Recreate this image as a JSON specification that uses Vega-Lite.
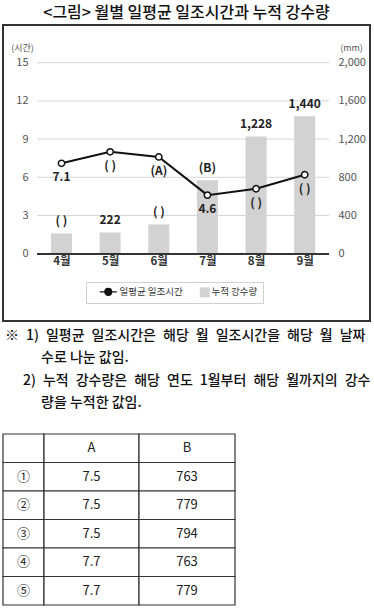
{
  "$schema": "https://vega.github.io/schema/vega-lite/v6.json",
  "padding": {"left": 2, "top": 5, "right": 2, "bottom": 2},
  "bounds": "flush",
  "spacing": 4,
  "title": {"text": "<그림> 월별 일평균 일조시간과 누적 강수량", "font": "Noto Sans CJK KR", "fontSize": 16, "fontWeight": 500, "color": "#111", "anchor": "middle", "offset": 3},
  "config": {"font": "Noto Sans CJK KR", "view": {"stroke": null}},
  "datasets": {
    "monthly": [
      {"month": 4, "sun": 7.1, "rain": 212, "sunLabel": "7.1", "rainLabel": "( )"},
      {"month": 5, "sun": 8.0, "rain": 222, "sunLabel": "( )", "rainLabel": "222"},
      {"month": 6, "sun": 7.6, "rain": 307, "sunLabel": "(A)", "rainLabel": "( )"},
      {"month": 7, "sun": 4.6, "rain": 770, "sunLabel": "4.6", "rainLabel": "(B)"},
      {"month": 8, "sun": 5.1, "rain": 1228, "sunLabel": "( )", "rainLabel": "1,228"},
      {"month": 9, "sun": 6.2, "rain": 1440, "sunLabel": "( )", "rainLabel": "1,440"}
    ],
    "grid": [{"mm": 400}, {"mm": 800}, {"mm": 1200}, {"mm": 1600}, {"mm": 2000}],
    "notes": [
      {"line": 1, "kind": "item", "text": "※\u20021)\u2002일평균\u2002일조시간은\u2002해당\u2002월\u2002일조시간을\u2002해당\u2002월\u2002날짜"},
      {"line": 2, "kind": "cont", "text": "수로 나눈 값임."},
      {"line": 3, "kind": "sub", "text": "2)\u2002누적\u2002강수량은\u2002해당\u2002연도\u20021월부터\u2002해당\u2002월까지의\u2002강수"},
      {"line": 4, "kind": "cont", "text": "량을 누적한 값임."}
    ],
    "table": [
      {"row": 0, "col": "no", "text": ""}, {"row": 0, "col": "A", "text": "A"}, {"row": 0, "col": "B", "text": "B"},
      {"row": 1, "col": "no", "text": "①"}, {"row": 1, "col": "A", "text": "7.5"}, {"row": 1, "col": "B", "text": "763"},
      {"row": 2, "col": "no", "text": "②"}, {"row": 2, "col": "A", "text": "7.5"}, {"row": 2, "col": "B", "text": "779"},
      {"row": 3, "col": "no", "text": "③"}, {"row": 3, "col": "A", "text": "7.5"}, {"row": 3, "col": "B", "text": "794"},
      {"row": 4, "col": "no", "text": "④"}, {"row": 4, "col": "A", "text": "7.7"}, {"row": 4, "col": "B", "text": "763"},
      {"row": 5, "col": "no", "text": "⑤"}, {"row": 5, "col": "A", "text": "7.7"}, {"row": 5, "col": "B", "text": "779"}
    ]
  },
  "vconcat": [
    {
      "width": 367,
      "height": 296,
      "view": {"stroke": "#333", "strokeWidth": 2},
      "data": {"name": "monthly"},
      "resolve": {"scale": {"y": "independent"}},
      "layer": [
        {
          "layer": [
            {
              "data": {"name": "grid"},
              "mark": {"type": "rule", "color": "#d6d6d6", "strokeWidth": 1},
              "encoding": {
                "y": {"field": "mm", "type": "quantitative", "scale": {"domain": [-704.8, 2394.8], "nice": false, "zero": false},
                  "axis": {"orient": "right", "values": [0, 400, 800, 1200, 1600, 2000], "format": ",.0f", "domain": false, "ticks": false, "grid": false, "offset": -34, "labelPadding": 2, "labelFontSize": 11, "labelColor": "#555", "labelFlush": false, "labelFont": "Noto Sans CJK KR",
                    "title": "(mm)", "titleAngle": 0, "titleX": 15, "titleY": 22, "titleAlign": "center", "titleBaseline": "middle", "titleFontSize": 9, "titleFontWeight": "normal", "titleColor": "#555", "titleFont": "Noto Sans CJK KR"}},
                "x": {"datum": 3.5, "type": "quantitative", "scale": {"domain": [2.9, 10.24], "nice": false, "zero": false},
                  "axis": {"values": [4, 5, 6, 7, 8, 9], "labelExpr": "datum.value + '월'", "domain": false, "ticks": false, "grid": false, "title": null, "offset": -68, "labelPadding": 2, "labelFontSize": 11.5, "labelFontWeight": "bold", "labelColor": "#333", "labelFlush": false, "labelFont": "Noto Sans CJK KR"}},
                "x2": {"datum": 9.5}
              }
            },
            {
              "mark": {"type": "bar", "width": 21},
              "encoding": {
                "x": {"field": "month", "type": "quantitative", "scale": {"domain": [2.9, 10.24], "nice": false, "zero": false}},
                "y": {"field": "rain", "type": "quantitative", "scale": {"domain": [-704.8, 2394.8], "nice": false, "zero": false}},
                "y2": {"datum": 0},
                "color": {"datum": "누적 강수량", "type": "nominal",
                  "scale": {"domain": ["일평균 일조시간", "누적 강수량"], "range": ["#111111", "#d2d2d2"]},
                  "legend": {"title": null, "orient": "none", "legendX": 83, "legendY": 257, "direction": "horizontal", "columns": 2,
                    "strokeColor": "#d0d0d0", "padding": 5, "labelFontSize": 9.5, "labelColor": "#333", "labelFont": "Noto Sans CJK KR", "labelOffset": 2, "columnPadding": 16, "symbolSize": 100,
                    "encode": {
                      "symbols": {"update": {
                        "shape": {"signal": "datum.label === '누적 강수량' ? 'square' : 'M0.47,0H1.07M1.87,0H2.47M1.87,0A0.4,0.4 0 1 1 1.07,0A0.4,0.4 0 1 1 1.87,0Z'"},
                        "size": {"signal": "datum.label === '누적 강수량' ? 100 : 289"},
                        "fill": {"signal": "datum.label === '누적 강수량' ? '#d2d2d2' : '#ffffff'"},
                        "stroke": {"signal": "datum.label === '누적 강수량' ? '#d2d2d2' : '#111111'"},
                        "strokeWidth": {"signal": "datum.label === '누적 강수량' ? 0 : 1.3"}
                      }},
                      "labels": {"update": {
                        "dx": {"signal": "datum.label === '누적 강수량' ? 0 : 17"}
                      }}
                    }}
                }
              }
            },
            {
              "mark": {"type": "text", "dy": -12, "fontSize": 12, "fontWeight": "bold", "color": "#222", "baseline": "middle"},
              "encoding": {
                "x": {"field": "month", "type": "quantitative", "scale": {"domain": [2.9, 10.24], "nice": false, "zero": false}},
                "y": {"field": "rain", "type": "quantitative", "scale": {"domain": [-704.8, 2394.8], "nice": false, "zero": false}},
                "text": {"field": "rainLabel"}
              }
            }
          ]
        },
        {
          "layer": [
            {
              "mark": {"type": "rule", "color": "#333", "strokeWidth": 1.5},
              "encoding": {
                "y": {"datum": 0, "type": "quantitative", "scale": {"domain": [-5.286, 17.961], "nice": false, "zero": false},
                  "axis": {"orient": "left", "values": [0, 3, 6, 9, 12, 15], "domain": false, "ticks": false, "grid": false, "offset": -27, "labelPadding": 2, "labelFontSize": 11, "labelColor": "#555", "labelFlush": false, "labelFont": "Noto Sans CJK KR",
                    "title": "(시간)", "titleAngle": 0, "titleX": -8, "titleY": 22, "titleAlign": "center", "titleBaseline": "middle", "titleFontSize": 9, "titleFontWeight": "normal", "titleColor": "#555", "titleFont": "Noto Sans CJK KR"}},
                "x": {"datum": 3.5, "type": "quantitative", "scale": {"domain": [2.9, 10.24], "nice": false, "zero": false}},
                "x2": {"datum": 9.5}
              }
            },
            {
              "mark": {"type": "line", "strokeWidth": 2},
              "encoding": {
                "x": {"field": "month", "type": "quantitative", "scale": {"domain": [2.9, 10.24], "nice": false, "zero": false}},
                "y": {"field": "sun", "type": "quantitative", "scale": {"domain": [-5.286, 17.961], "nice": false, "zero": false}},
                "color": {"datum": "일평균 일조시간", "type": "nominal"}
              }
            },
            {
              "mark": {"type": "point", "filled": true, "fill": "#ffffff", "stroke": "#111", "strokeWidth": 1.5, "size": 40, "opacity": 1},
              "encoding": {
                "x": {"field": "month", "type": "quantitative", "scale": {"domain": [2.9, 10.24], "nice": false, "zero": false}},
                "y": {"field": "sun", "type": "quantitative", "scale": {"domain": [-5.286, 17.961], "nice": false, "zero": false}}
              }
            },
            {
              "mark": {"type": "text", "dy": 14, "fontSize": 12, "fontWeight": "bold", "color": "#222", "baseline": "middle"},
              "encoding": {
                "x": {"field": "month", "type": "quantitative", "scale": {"domain": [2.9, 10.24], "nice": false, "zero": false}},
                "y": {"field": "sun", "type": "quantitative", "scale": {"domain": [-5.286, 17.961], "nice": false, "zero": false}},
                "text": {"field": "sunLabel"}
              }
            }
          ]
        }
      ]
    },
    {
      "width": 367,
      "height": 105,
      "data": {"name": "notes"},
      "mark": {"type": "text", "align": "left", "baseline": "middle", "fontSize": 14, "fontWeight": 500, "color": "#111"},
      "encoding": {
        "y": {"field": "line", "type": "ordinal", "scale": {"type": "point", "padding": 0, "range": [11, 78]}, "axis": null},
        "x": {"field": "kind", "type": "nominal", "scale": {"type": "point", "padding": 0, "domain": ["item", "sub", "cont"], "range": [2, 38]}, "axis": null},
        "text": {"field": "text"}
      }
    },
    {
      "spacing": 0,
      "bounds": "flush",
      "hconcat": [
        {
          "width": 41, "height": 171,
          "data": {"name": "table"},
          "transform": [{"filter": "datum.col === 'no'"}],
          "layer": [
            {"mark": {"type": "rect", "fill": "#fff", "stroke": "#333", "strokeWidth": 1.2},
             "encoding": {"y": {"field": "row", "type": "ordinal", "scale": {"paddingInner": 0, "paddingOuter": 0}, "axis": null}}},
            {"mark": {"type": "text", "fontSize": 13, "color": "#222"},
             "encoding": {"y": {"field": "row", "type": "ordinal", "axis": null}, "text": {"field": "text"}}}
          ]
        },
        {
          "width": 95, "height": 171,
          "data": {"name": "table"},
          "transform": [{"filter": "datum.col === 'A'"}],
          "layer": [
            {"mark": {"type": "rect", "fill": "#fff", "stroke": "#333", "strokeWidth": 1.2},
             "encoding": {"y": {"field": "row", "type": "ordinal", "scale": {"paddingInner": 0, "paddingOuter": 0}, "axis": null}}},
            {"mark": {"type": "text", "fontSize": 13, "color": "#222"},
             "encoding": {"y": {"field": "row", "type": "ordinal", "axis": null}, "text": {"field": "text"}}}
          ]
        },
        {
          "width": 96, "height": 171,
          "data": {"name": "table"},
          "transform": [{"filter": "datum.col === 'B'"}],
          "layer": [
            {"mark": {"type": "rect", "fill": "#fff", "stroke": "#333", "strokeWidth": 1.2},
             "encoding": {"y": {"field": "row", "type": "ordinal", "scale": {"paddingInner": 0, "paddingOuter": 0}, "axis": null}}},
            {"mark": {"type": "text", "fontSize": 13, "color": "#222"},
             "encoding": {"y": {"field": "row", "type": "ordinal", "axis": null}, "text": {"field": "text"}}}
          ]
        }
      ]
    }
  ]
}
